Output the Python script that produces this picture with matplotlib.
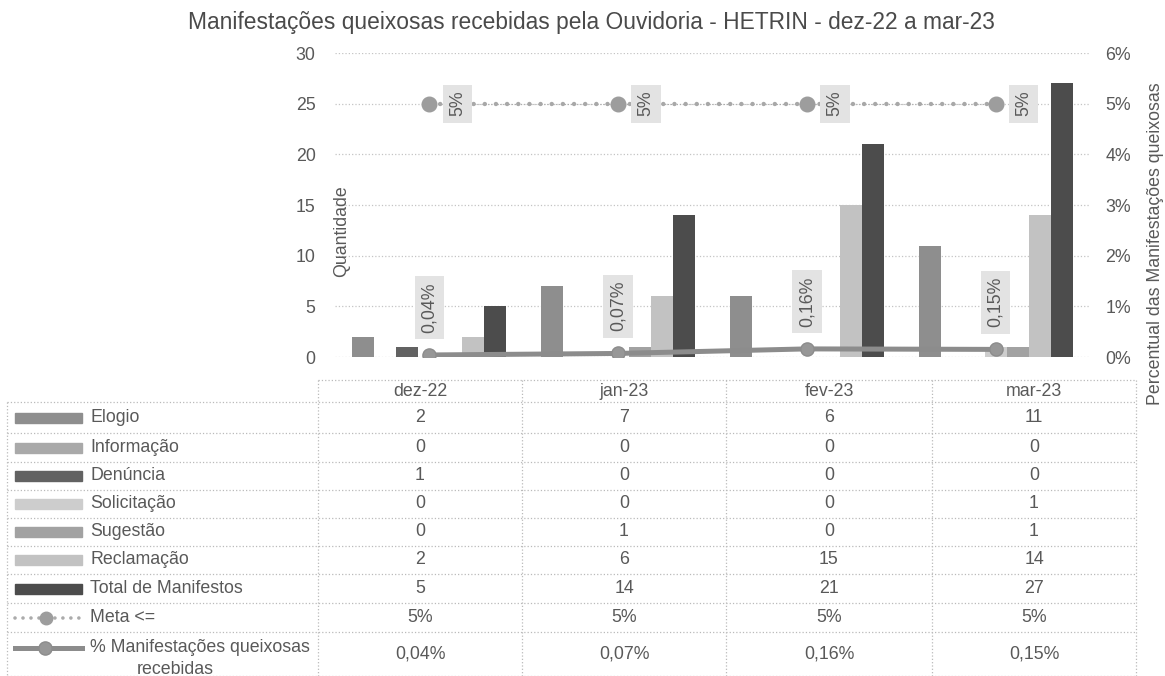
import matplotlib
matplotlib.use('Agg')
import matplotlib.pyplot as plt
from matplotlib.lines import Line2D
from matplotlib.patches import Rectangle
import numpy as np

plt.rcParams['font.family'] = ['Liberation Sans', 'DejaVu Sans']

W, H = 1165, 676

# dados
meses = ['dez-22', 'jan-23', 'fev-23', 'mar-23']
series = ['Elogio', 'Informação', 'Denúncia', 'Solicitação', 'Sugestão',
          'Reclamação', 'Total de Manifestos']
elogio = [2, 7, 6, 11]
informacao = [0, 0, 0, 0]
denuncia = [1, 0, 0, 0]
solicitacao = [0, 0, 0, 1]
sugestao = [0, 1, 0, 1]
reclamacao = [2, 6, 15, 14]
total = [5, 14, 21, 27]
meta = [5, 5, 5, 5]                        # em %
perc_queixosas = [0.04, 0.07, 0.16, 0.15]  # em %

valores = [elogio, informacao, denuncia, solicitacao, sugestao, reclamacao, total]
cores = ['#8e8e8e', '#a9a9a9', '#626262', '#cdcdcd', '#a2a2a2', '#c2c2c2', '#4c4c4c']
txt = '#595959'


def fx(x):
    return x / W


def fy(y):
    return 1 - y / H


def pct(v):
    s = '%d' % v if v == int(v) else '%.2f' % v
    return s.replace('.', ',') + '%'


fig = plt.figure(figsize=(W / 100, H / 100), dpi=100)
fig.patch.set_facecolor('white')

ax = fig.add_axes([fx(335), fy(357), (1090 - 335) / W, (357 - 53) / H])
x = np.arange(len(meses))
bw = 22 / 189
for i, (nome, vals, c) in enumerate(zip(series, valores, cores)):
    ax.bar(x + (i - 3) * bw, vals, width=bw, color=c, label=nome, zorder=2)

ax.set_xlim(-0.5, 3.5)
ax.set_ylim(0, 30)
ax.set_yticks(range(0, 31, 5))
ax.set_xticks([])
ax.tick_params(axis='y', length=0, pad=14, labelsize=12.8, labelcolor=txt)
ax.grid(axis='y', linestyle=':', color='#c4c4c4', lw=0.9, zorder=0)
ax.set_axisbelow(True)
for s in ax.spines.values():
    s.set_visible(False)

ax2 = ax.twinx()
ax2.set_ylim(0, 6)
ax2.set_yticks(range(0, 7))
ax2.set_yticklabels(['%d%%' % v for v in range(0, 7)])
ax2.tick_params(axis='y', length=0, pad=11, labelsize=12.8, labelcolor=txt)
for s in ax2.spines.values():
    s.set_visible(False)

# linha da meta
ax2.plot(x, meta, ls=':', lw=0.8, color='#ababab', zorder=3)
ax2.plot(x, meta, ls=(0, (0.01, 2.5)), lw=3.2, color='#a8a8a8',
         dash_capstyle='round', zorder=3)
ax2.plot(x, meta, ls='none', marker='o', ms=10.5, color='#9d9d9d', zorder=4)

# linha do percentual
ax2.plot(x, perc_queixosas, color='#8c8c8c', lw=3.6, marker='o', ms=9.5,
         mfc='#979797', mec='#8c8c8c', zorder=5)

box = dict(boxstyle='square,pad=0.35', fc='#e3e3e3', ec='none')
for i in range(len(meses)):
    ax2.annotate(pct(meta[i]), (x[i], meta[i]), xytext=(28, 0),
                 textcoords='offset pixels', rotation=90, ha='center',
                 va='center', fontsize=12.8, color=txt, bbox=box, zorder=6)
    ax2.annotate(pct(perc_queixosas[i]), (x[i], perc_queixosas[i]),
                 xytext=(0, 22), textcoords='offset pixels', rotation=90,
                 ha='center', va='bottom', fontsize=12.8, color=txt,
                 bbox=box, zorder=6)

fig.text(fx(591), fy(22), 'Manifestações queixosas recebidas pela Ouvidoria - '
         'HETRIN - dez-22 a mar-23', ha='center', va='center',
         fontsize=16.4, color='#4a4a4a')
fig.text(fx(342), fy(231), 'Quantidade', rotation=90, ha='center',
         va='center', fontsize=12.8, color=txt)
fig.text(fx(1155), fy(244), 'Percentual das Manifestações queixosas',
         rotation=90, ha='center', va='center', fontsize=12.8, color=txt)

# tabela de dados
col_edges = [318, 522, 726, 932, 1136]
row_edges = [402, 433, 462, 490, 518, 546, 574, 603, 632, 676]
lk = dict(ls=':', lw=0.9, color='#bababa', transform=fig.transFigure)


def hline(y, x0, x1):
    fig.add_artist(Line2D([fx(x0), fx(x1)], [fy(y), fy(y)], **lk))


def vline(xx, y0, y1):
    fig.add_artist(Line2D([fx(xx), fx(xx)], [fy(y0), fy(y1)], **lk))


hline(380, col_edges[0], col_edges[-1])
for y in row_edges:
    hline(y, 7, col_edges[-1])
vline(7, row_edges[0], row_edges[-1])
for xx in col_edges:
    vline(xx, 380, row_edges[-1])

centros = [(a + b) / 2 for a, b in zip(col_edges[:-1], col_edges[1:])]
for cx, m in zip(centros, meses):
    fig.text(fx(cx), fy(391), m, ha='center', va='center', fontsize=12.8, color=txt)

linhas = [[str(v) for v in vals] for vals in valores]
linhas.append([pct(v) for v in meta])
linhas.append([pct(v) for v in perc_queixosas])

for r in range(len(linhas)):
    y0, y1 = row_edges[r], row_edges[r + 1]
    yc = (y0 + y1) / 2
    for cx, s in zip(centros, linhas[r]):
        fig.text(fx(cx), fy(yc), s, ha='center', va='center', fontsize=12.8, color=txt)
    if r < len(series):
        fig.add_artist(Rectangle((fx(15), fy(yc + 5)), fx(67), 10 / H,
                                 transform=fig.transFigure, color=cores[r]))
        fig.text(fx(90), fy(yc), series[r], ha='left', va='center',
                 fontsize=12.8, color=txt)
    elif r == len(series):
        fig.add_artist(Line2D([fx(15), fx(82)], [fy(yc), fy(yc)],
                              ls=(0, (0.01, 2.2)), lw=2.6, color='#ababab',
                              dash_capstyle='round', transform=fig.transFigure))
        fig.add_artist(Line2D([fx(46)], [fy(yc)], ls='none', marker='o', ms=9,
                              color='#9d9d9d', transform=fig.transFigure))
        fig.text(fx(90), fy(yc), 'Meta <=', ha='left', va='center',
                 fontsize=12.8, color=txt)
    else:
        fig.add_artist(Line2D([fx(15), fx(45), fx(82)], [fy(648)] * 3, lw=3.6,
                              color='#8c8c8c', marker='o', ms=9.5, markevery=[1],
                              mfc='#979797', mec='#8c8c8c',
                              transform=fig.transFigure))
        fig.text(fx(90), fy(648), '% Manifestações queixosas', ha='left',
                 va='center', fontsize=12.8, color=txt)
        fig.text(fx(175), fy(669), 'recebidas', ha='center', va='center',
                 fontsize=12.8, color=txt)

fig.savefig('out.png', dpi=100, facecolor='white')
